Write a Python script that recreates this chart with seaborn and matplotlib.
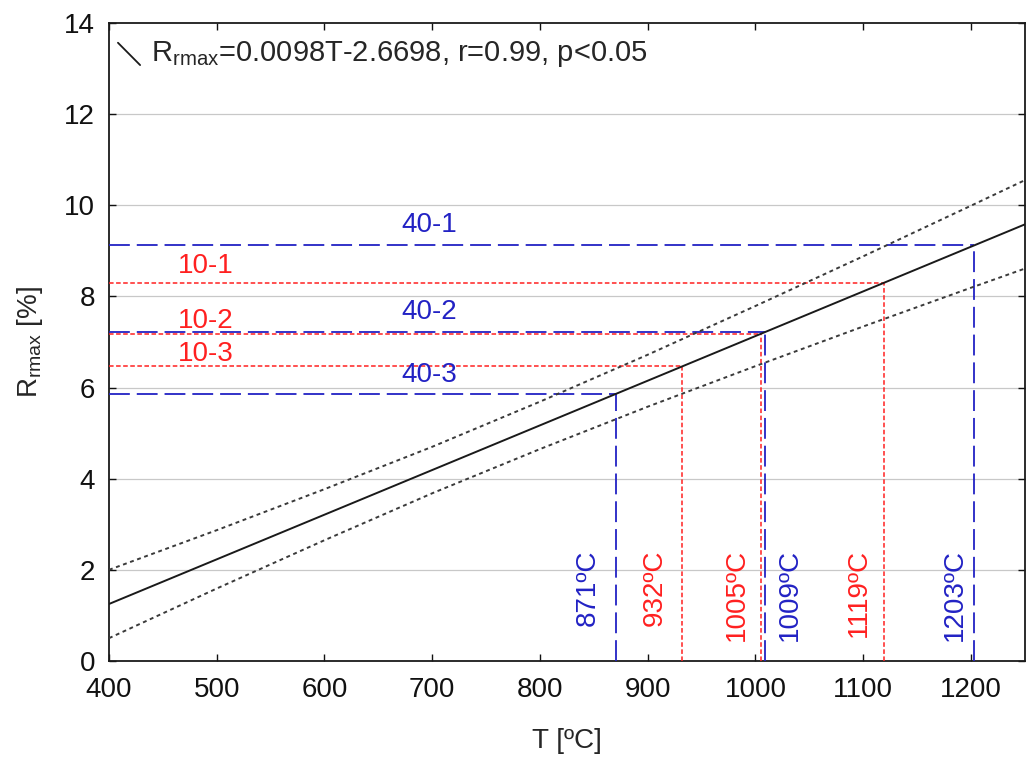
import numpy as np
import pandas as pd
import matplotlib
matplotlib.use("Agg")
import matplotlib.pyplot as plt
import seaborn as sns

# Regression of Rrmax on temperature
slope = 0.0098
intercept = -2.6698

# Confidence band around the regression line
band_T = [400, 500, 600, 700, 800, 900, 1000, 1100, 1200, 1250]
band_upper = [2.00, 2.87, 3.77, 4.70, 5.69, 6.72, 7.79, 8.88, 9.99, 10.55]
band_lower = [0.50, 1.59, 2.65, 3.68, 4.65, 5.58, 6.47, 7.34, 8.19, 8.61]

# Samples and their equivalent temperatures
red_names = ["10-1", "10-2", "10-3"]
red_temps = [1119, 1005, 932]
blue_names = ["40-1", "40-2", "40-3"]
blue_temps = [1203, 1009, 871]

x_ticks = [400, 500, 600, 700, 800, 900, 1000, 1100, 1200]
y_ticks = [0, 2, 4, 6, 8, 10, 12, 14]

sns.set_theme(style="ticks")
plt.rcParams["font.family"] = ["Liberation Sans", "DejaVu Sans"]
plt.rcParams["mathtext.fontset"] = "custom"
plt.rcParams["mathtext.rm"] = "Liberation Sans"
plt.rcParams["mathtext.it"] = "Liberation Sans:italic"
plt.rcParams["lines.scale_dashes"] = False

RED = "#ff2020"
BLUE = "#2222c4"
FS = 20

fig = plt.figure(figsize=(10.30, 7.58), dpi=100)
ax = fig.add_axes([0.1058, 0.128, 0.8892, 0.8417])

ax.set_xlim(400, 1250)
ax.set_ylim(0, 14)

# horizontal grid
for yv in y_ticks[1:-1]:
    ax.axhline(yv, color="#c8c8c8", lw=0.9, zorder=0)

# regression line and confidence band
line_df = pd.DataFrame({"T": [400, 1250]})
line_df["R"] = slope * line_df["T"] + intercept
sns.lineplot(data=line_df, x="T", y="R", ax=ax, color="#1a1a1a", lw=1.4, zorder=4)

band_df = pd.DataFrame({"T": band_T, "upper": band_upper, "lower": band_lower})
for col in ["upper", "lower"]:
    sns.lineplot(data=band_df, x="T", y=col, ax=ax, color="#3a3a3a", lw=1.4,
                 dashes=False, zorder=4).lines[-1].set_dashes((2.8, 2.6))


def guides(names, temps, color, dash, lw, label_T, label_offsets, text_offsets):
    for name, t, loff, toff in zip(names, temps, label_offsets, text_offsets):
        r = slope * t + intercept
        ax.plot([400, t], [r, r], color=color, lw=lw, dashes=dash, zorder=3)
        ax.plot([t, t], [0, r], color=color, lw=lw, dashes=dash, zorder=3)
        ax.annotate(name, xy=(label_T, r), xytext=(0, loff), textcoords="offset points",
                    ha="center", va="bottom", color=color, fontsize=FS)
        ax.annotate(f"{t}ºC", xy=(t, 2.45), xytext=(toff, 0), textcoords="offset points",
                    ha="center", va="top", rotation=90, color=color, fontsize=FS)


guides(red_names, red_temps, RED, (3.3, 1.8), 1.1, 490, [3.0, -0.5, -0.5], [-18, -17, -19.5])
guides(blue_names, blue_temps, BLUE, (15, 5), 1.3, 697, [5.0, 5.0, 4.0], [-14, 18, -21])

# legend entry for the regression line
ax.plot([0.0098, 0.034], [0.969, 0.934], transform=ax.transAxes, color="#1a1a1a", lw=1.3)
ax.text(0.046, 0.951, r"R$_{\rm rmax}$=0.0098T-2.6698, r=0.99, p<0.05",
        transform=ax.transAxes, ha="left", va="center", fontsize=21)

ax.set_xticks(x_ticks)
ax.set_yticks(y_ticks)
ax.tick_params(axis="both", which="both", direction="in", length=5, width=1.0,
               top=True, right=True, labelsize=FS, colors="#111111")
ax.tick_params(axis="x", pad=11.5)
ax.tick_params(axis="y", pad=10)
for s in ax.spines.values():
    s.set_visible(True)
    s.set_color("#1a1a1a")
    s.set_linewidth(1.3)

ax.set_xlabel("T [ºC]", fontsize=FS, labelpad=18)
ax.set_ylabel(r"R$_{\rm rmax}$ [%]", fontsize=FS, labelpad=14)

fig.savefig("out.png", dpi=100)
